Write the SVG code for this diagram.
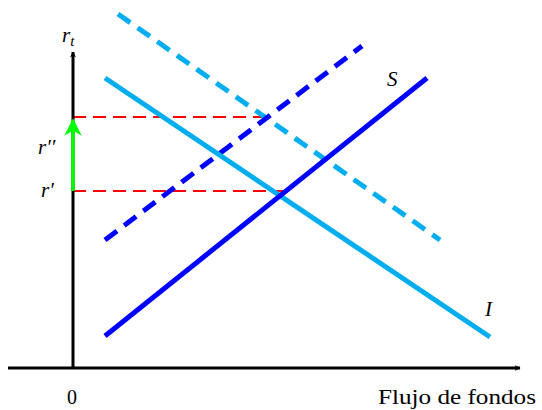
<svg xmlns="http://www.w3.org/2000/svg" width="542" height="410" viewBox="0 0 542 410">
<defs>
<style>
.ax{stroke:#000;stroke-width:3;fill:none}
.red{stroke:#FF0000;stroke-width:2;stroke-dasharray:13 7;fill:none}
.cy{stroke:#00AEEF;stroke-width:5;fill:none}
.bl{stroke:#0000FF;stroke-width:5;fill:none}
.dash{stroke-dasharray:15 9}
.m{font-family:"Liberation Serif","DejaVu Serif",serif;font-style:italic;font-size:21px;fill:#000}
.t{font-family:"Liberation Serif","DejaVu Serif",serif;font-size:20px;fill:#000}
</style>
<marker id="ah" viewBox="0 0 10 10" refX="9" refY="5" markerWidth="6" markerHeight="6" markerUnits="userSpaceOnUse" orient="auto">
<path d="M0,0 L10,5 L0,10 L3,5 Z" fill="#000"/>
</marker>
<marker id="ag" viewBox="0 0 10 10" refX="9" refY="5" markerWidth="5" markerHeight="5" markerUnits="strokeWidth" orient="auto">
<path d="M0,0 L10,5 L0,10 L3,5 Z" fill="#00FF00"/>
</marker>
</defs>
<g id="connectors">
<line class="red" x1="73" y1="117" x2="268" y2="117"/>
<line class="red" x1="73" y1="191" x2="283" y2="191"/>
<line class="ax" x1="8" y1="368" x2="520" y2="368" marker-end="url(#ah)"/>
<line class="ax" x1="73" y1="368" x2="73" y2="52" marker-end="url(#ah)"/>
<line x1="73" y1="191" x2="73" y2="120" stroke="#00FF00" stroke-width="3.5" marker-end="url(#ag)"/>
<line class="cy dash" x1="118" y1="14" x2="440" y2="240"/>
<line class="bl dash" x1="105" y1="240" x2="362" y2="46"/>
<line class="cy" x1="105" y1="78" x2="490" y2="337"/>
<line class="bl" x1="105" y1="336" x2="427" y2="78"/>
</g>
<g id="labels">
<text class="m" x="62" y="42">r<tspan font-size="15" dy="4">t</tspan></text>
<text class="m" x="38" y="154">r′′</text>
<text class="m" x="41" y="197">r′</text>
<text class="m" x="387" y="86">S</text>
<text class="m" x="485" y="316">I</text>
<text class="t" x="67" y="404">0</text>
<text class="t" x="378" y="404" textLength="158" lengthAdjust="spacingAndGlyphs">Flujo de fondos</text>
</g>
</svg>
